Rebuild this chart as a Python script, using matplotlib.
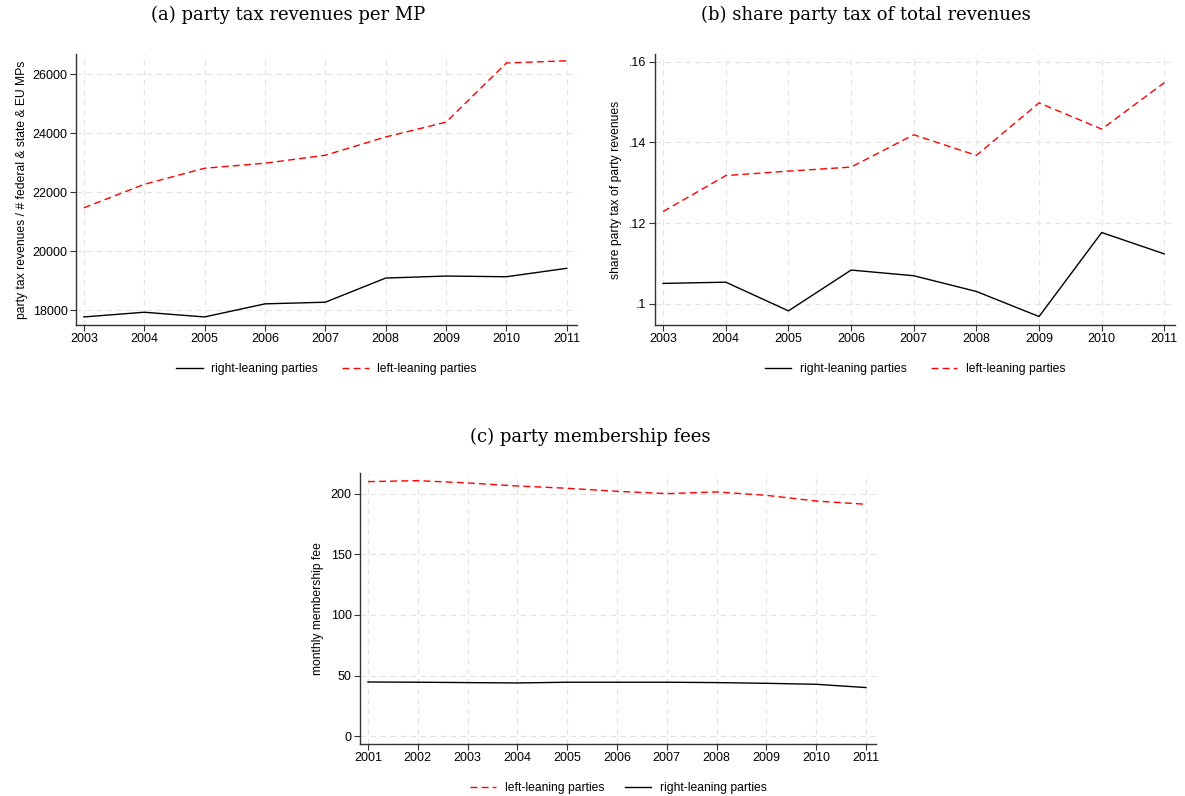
import matplotlib.pyplot as plt

plt.rcParams['font.family'] = ['Liberation Sans', 'DejaVu Sans']

# panel (a): party tax revenues per MP
years_a = [2003, 2004, 2005, 2006, 2007, 2008, 2009, 2010, 2011]
right_a = [17773, 17932, 17773, 18216, 18272, 19090, 19158, 19135, 19420]
left_a = [21470, 22266, 22810, 22980, 23250, 23870, 24370, 26375, 26450]
yticks_a = [18000, 20000, 22000, 24000, 26000]

# panel (b): share party tax of total revenues
years_b = [2003, 2004, 2005, 2006, 2007, 2008, 2009, 2010, 2011]
right_b = [0.1051, 0.1054, 0.0983, 0.1084, 0.1070, 0.1031, 0.0969, 0.1177, 0.1124]
left_b = [0.1229, 0.1318, 0.1329, 0.1339, 0.1419, 0.1368, 0.1498, 0.1433, 0.1548]
yticks_b = [0.10, 0.12, 0.14, 0.16]
yticklabels_b = ['.1', '.12', '.14', '.16']

# panel (c): party membership fees
years_c = [2001, 2002, 2003, 2004, 2005, 2006, 2007, 2008, 2009, 2010, 2011]
left_c = [209.9, 210.7, 208.8, 206.3, 204.4, 201.9, 200.0, 201.4, 198.6, 193.9, 191.2]
right_c = [44.8, 44.6, 44.3, 44.0, 44.6, 44.6, 44.6, 44.3, 43.7, 42.9, 40.2]
yticks_c = [0, 50, 100, 150, 200]

W, H = 1185, 796
fig = plt.figure(figsize=(W / 100, H / 100), dpi=100)


def box(l, t, r, b):
    return [l / W, 1 - b / H, (r - l) / W, (b - t) / H]


def style(ax, xticks, yticks):
    for s in ['top', 'right']:
        ax.spines[s].set_visible(False)
    for s in ['left', 'bottom']:
        ax.spines[s].set_color('#333333')
        ax.spines[s].set_linewidth(1.0)
    ax.set_xticks(xticks)
    ax.set_yticks(yticks)
    ax.grid(True, color='#e3e3e3', linestyle=(0, (5, 4)), linewidth=0.8)
    ax.set_axisbelow(True)
    ax.tick_params(labelsize=9, length=4, width=0.8, color='#333333', pad=2)


def add_legend(ax, handles, labels, spacing):
    ax.legend(handles, labels, loc='upper center', bbox_to_anchor=(0.5, -0.1),
              ncol=2, frameon=False, fontsize=8.7, handlelength=2.2,
              handletextpad=0.7, columnspacing=spacing)


ax1 = fig.add_axes(box(76, 54, 577, 325))
l1, = ax1.plot(years_a, right_a, color='black', lw=1.0)
l2, = ax1.plot(years_a, left_a, color='red', lw=1.0, ls=(0, (5, 3)))
style(ax1, years_a, yticks_a)
ax1.set_xlim(2002.87, 2011.17)
ax1.set_ylim(17500, 26680)
ax1.set_ylabel('party tax revenues / # federal & state & EU MPs', fontsize=8.7, labelpad=3)
add_legend(ax1, [l1, l2], ['right-leaning parties', 'left-leaning parties'], 2.0)

ax2 = fig.add_axes(box(655, 54, 1175, 325))
l3, = ax2.plot(years_b, right_b, color='black', lw=1.0)
l4, = ax2.plot(years_b, left_b, color='red', lw=1.0, ls=(0, (5, 3)))
style(ax2, years_b, yticks_b)
ax2.set_yticklabels(yticklabels_b)
ax2.set_xlim(2002.87, 2011.17)
ax2.set_ylim(0.0948, 0.1619)
ax2.set_ylabel('share party tax of party revenues', fontsize=8.7, labelpad=5)
add_legend(ax2, [l3, l4], ['right-leaning parties', 'left-leaning parties'], 2.0)

ax3 = fig.add_axes(box(360, 473, 876, 744))
l5, = ax3.plot(years_c, left_c, color='red', lw=1.0, ls=(0, (5, 3)))
l6, = ax3.plot(years_c, right_c, color='black', lw=1.0)
style(ax3, years_c, yticks_c)
ax3.set_xlim(2000.84, 2011.2)
ax3.set_ylim(-6.3, 217)
ax3.set_ylabel('monthly membership fee', fontsize=8.7, labelpad=5)
add_legend(ax3, [l5, l6], ['left-leaning parties', 'right-leaning parties'], 1.7)

title_font = dict(family='DejaVu Serif', fontsize=13, ha='center', va='center')
fig.text(288 / W, 1 - 15 / H, '(a) party tax revenues per MP', **title_font)
fig.text(866 / W, 1 - 15 / H, '(b) share party tax of total revenues', **title_font)
fig.text(590 / W, 1 - 437 / H, '(c) party membership fees', **title_font)

fig.savefig('out.png', dpi=100)
